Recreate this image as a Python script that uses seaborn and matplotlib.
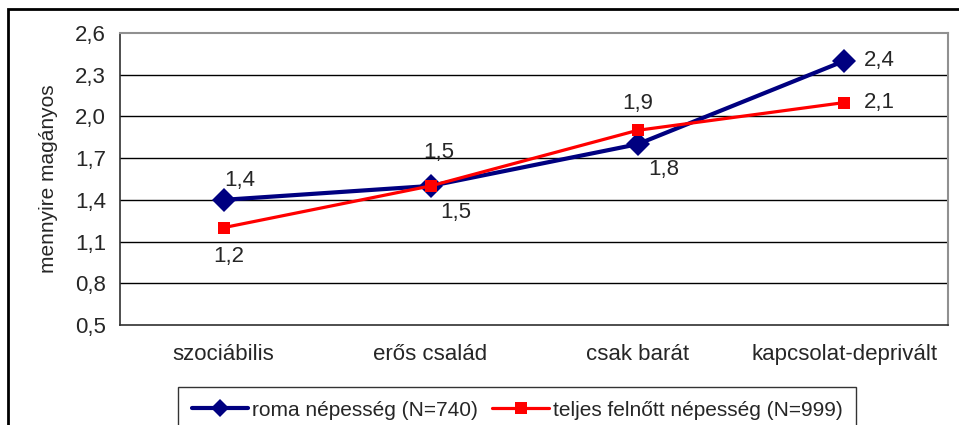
import matplotlib
matplotlib.use("Agg")
import matplotlib.pyplot as plt
import seaborn as sns
import pandas as pd
from matplotlib.patches import Rectangle
from matplotlib.lines import Line2D
from matplotlib.ticker import FixedLocator, FuncFormatter

categories = ["szociábilis", "erős család", "csak barát", "kapcsolat-deprivált"]
roma_values = [1.4, 1.5, 1.8, 2.4]
teljes_values = [1.2, 1.5, 1.9, 2.1]
series_names = ["roma népesség (N=740)", "teljes felnőtt népesség (N=999)"]
y_ticks = [0.5, 0.8, 1.1, 1.4, 1.7, 2.0, 2.3, 2.6]
y_label = "mennyire magányos"

sns.set_style("white")
plt.rcParams["font.family"] = ["Liberation Sans", "DejaVu Sans"]

df = pd.DataFrame({
    "kat": categories * 2,
    "ertek": roma_values + teljes_values,
    "sorozat": [series_names[0]] * 4 + [series_names[1]] * 4,
})

fig = plt.figure(figsize=(9.59, 4.25), dpi=100)
ax = fig.add_axes([120 / 959, 1 - 325 / 425, (948 - 120) / 959, (325 - 33) / 425])

palette = {series_names[0]: "#000080", series_names[1]: "#FF0000"}
sns.lineplot(data=df, x="kat", y="ertek", hue="sorozat", style="sorozat",
             palette=palette, markers={series_names[0]: "D", series_names[1]: "s"},
             dashes=False, ax=ax, legend=False, sort=False)
lines = ax.get_lines()
for ln, lw, ms, z in zip(lines, [3.0, 2.3], [12.5, 8.5], [3, 4]):
    ln.set_linewidth(lw)
    ln.set_markersize(ms)
    ln.set_markeredgewidth(0)
    ln.set_zorder(z)

ax.set_xlim(-0.5, 3.5)
ax.set_ylim(0.5, 2.6)
ax.yaxis.set_major_locator(FixedLocator(y_ticks))
ax.yaxis.set_major_formatter(FuncFormatter(lambda v, p: f"{v:.1f}".replace(".", ",")))
ax.set_xticks(range(len(categories)))
ax.set_xticklabels(categories)
ax.set_xticks([-0.5, 0.5, 1.5, 2.5, 3.5], minor=True)
ax.tick_params(axis="x", which="major", length=0, pad=14, labelsize=16)
ax.tick_params(axis="x", which="minor", length=5, direction="out", color="black", width=1)
ax.tick_params(axis="y", which="major", length=5, direction="out", pad=5, labelsize=16, color="black", width=1)
ax.set_xlabel("")
ax.set_ylabel(y_label, fontsize=15, labelpad=12)

for yv in y_ticks[1:-1]:
    ax.axhline(yv, color="black", lw=1.0, zorder=1)

for side in ["left", "bottom"]:
    ax.spines[side].set_color("#303030")
    ax.spines[side].set_linewidth(1.2)
for side in ["top", "right"]:
    ax.spines[side].set_color("#909090")
    ax.spines[side].set_linewidth(1.5)
    ax.spines[side].set_visible(True)

# data labels (offset in points)
roma_off = [(12, 14), (18, -19), (19, -18), (25, 0)]
teljes_off = [(4, -21), (6, 24), (0, 19), (25, 0)]
for i, v in enumerate(roma_values):
    ax.annotate(f"{v:.1f}".replace(".", ","), (i, v), xytext=roma_off[i],
                textcoords="offset points", ha="center", va="center", fontsize=16)
for i, v in enumerate(teljes_values):
    ax.annotate(f"{v:.1f}".replace(".", ","), (i, v), xytext=teljes_off[i],
                textcoords="offset points", ha="center", va="center", fontsize=16)

handles = [Line2D([], [], color="#000080", lw=3.0, marker="D", markersize=9, markeredgewidth=0),
           Line2D([], [], color="#FF0000", lw=2.3, marker="s", markersize=8, markeredgewidth=0)]
leg = fig.legend(handles, series_names, loc="upper left",
                 bbox_to_anchor=(178 / 959, 1 - 387 / 425), ncol=2, frameon=True,
                 fancybox=False, edgecolor="black", fontsize=15, handlelength=2.7,
                 columnspacing=0.7, handletextpad=0.2, borderpad=0.65, borderaxespad=0)
leg.get_frame().set_linewidth(1.0)

fig.patches.append(Rectangle((8 / 959, -0.2), 1.2, 1 - 9 / 425 + 0.2,
                             transform=fig.transFigure, fill=False,
                             edgecolor="black", lw=2, zorder=0))

fig.savefig("out.png", dpi=100)
